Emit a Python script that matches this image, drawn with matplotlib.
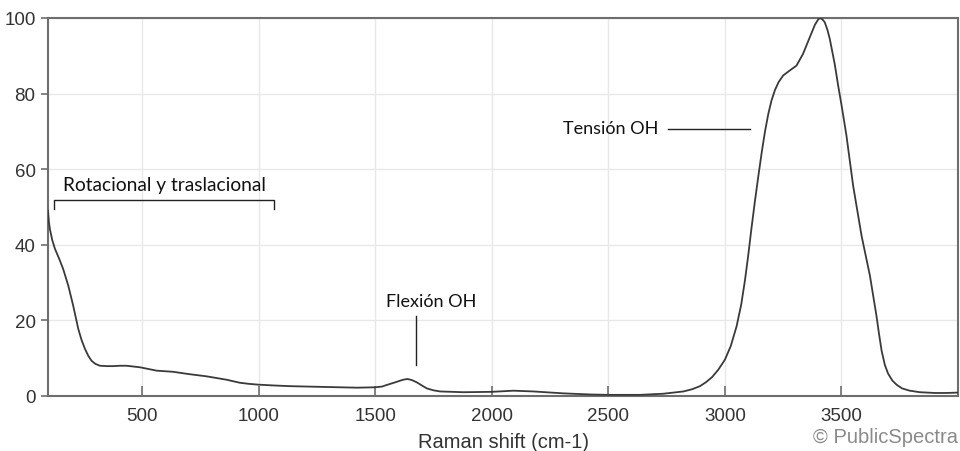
import matplotlib

matplotlib.use("Agg")
import matplotlib.pyplot as plt

# Raman spectrum of liquid water, read point by point
shift = [97, 101, 105, 115, 127, 145, 162, 184, 205, 227, 241, 256, 270, 284,
         300, 320, 350, 377, 405, 434, 491, 563, 634, 700, 777, 863, 920,
         960, 999, 1060, 1135, 1278, 1421, 1500, 1530, 1549, 1575, 1600,
         1620, 1639, 1658, 1679, 1700, 1722, 1750, 1779, 1879, 2000, 2093,
         2179, 2307, 2422, 2500, 2636, 2736, 2822, 2860, 2893, 2920, 2945,
         2971, 3000, 3025, 3050, 3070, 3086, 3100, 3114, 3128, 3143, 3158,
         3172, 3186, 3200, 3215, 3230, 3250, 3278, 3307, 3335, 3364, 3386,
         3400, 3407, 3417, 3428, 3440, 3450, 3471, 3486, 3500, 3521, 3550,
         3586, 3622, 3650, 3661, 3672, 3686, 3700, 3718, 3736, 3760, 3793,
         3836, 3900, 3950, 4000]
intensity = [49.0, 46.0, 44.2, 41.3, 38.9, 36.3, 33.6, 29.2, 23.9, 17.7,
             14.8, 12.4, 10.6, 9.3, 8.5, 8.0, 7.9, 7.9, 8.0, 8.0, 7.6, 6.7,
             6.4, 5.8, 5.2, 4.3, 3.5, 3.2, 3.0, 2.8, 2.6, 2.4, 2.2, 2.3, 2.5,
             2.9, 3.4, 3.9, 4.3, 4.5, 4.2, 3.6, 2.8, 2.0, 1.5, 1.2, 1.0, 1.1,
             1.4, 1.2, 0.7, 0.4, 0.3, 0.3, 0.6, 1.2, 1.8, 2.6, 3.7, 5.0, 6.9,
             9.6, 13.2, 18.4, 24.2, 30.6, 37.2, 44.4, 51.2, 58.0, 64.5, 70.0,
             74.6, 78.2, 81.0, 83.0, 84.8, 86.1, 87.4, 90.5, 94.9, 98.2, 99.6,
             100.0, 99.7, 98.9, 96.8, 94.4, 87.8, 82.0, 77.0, 69.0, 55.6, 42.4,
             31.8, 21.2, 16.4, 12.0, 8.2, 5.9, 4.1, 3.0, 2.0, 1.4, 1.0, 0.8,
             0.8, 0.9]

x_ticks = [500, 1000, 1500, 2000, 2500, 3000, 3500]
y_ticks = [0, 20, 40, 60, 80, 100]

ANNOT_FONT = "Lato"
AXIS_FONT = "Liberation Sans"

fig = plt.figure(figsize=(9.6, 4.52), dpi=100)
ax = fig.add_axes([0.05, 0.1217, 0.948, 0.8363])

ax.plot(shift, intensity, color="#3a3a3a", lw=1.3, zorder=3,
        solid_joinstyle="round")

ax.set_xlim(97, 4000)
ax.set_ylim(0, 100)
ax.set_xticks(x_ticks)
ax.set_yticks(y_ticks)
ax.grid(True, color="#e8e8e8", lw=1.0, zorder=0)
ax.set_axisbelow(True)

for sp in ax.spines.values():
    sp.set_color("#6e6e6e")
    sp.set_linewidth(1.5)
ax.tick_params(axis="x", direction="in", length=7, width=1.2, color="#6e6e6e",
               labelsize=13.5, labelcolor="#333333", pad=8)
ax.tick_params(axis="y", direction="out", length=5, width=1.2, color="#6e6e6e",
               labelsize=13.5, labelcolor="#333333", pad=4)
for lab in ax.get_xticklabels() + ax.get_yticklabels():
    lab.set_fontfamily(AXIS_FONT)

ax.set_xlabel("Raman shift (cm-1)", fontsize=14.5, color="#333333",
              family=AXIS_FONT, labelpad=6)

# band annotations
ax.text(161, 56, "Rotacional y traslacional", fontsize=13.8, family=ANNOT_FONT,
        va="center", ha="left", color="#111111")
ax.plot([121, 121, 1065, 1065], [49.5, 51.9, 51.9, 49.5], color="#222222", lw=1.0)

ax.text(1742, 25.2, "Flexión OH", fontsize=13, family=ANNOT_FONT,
        va="center", ha="center", color="#111111")
ax.plot([1675, 1675], [21.2, 8.2], color="#222222", lw=1.0)

ax.text(2714, 70.8, "Tensión OH", fontsize=13, family=ANNOT_FONT,
        va="center", ha="right", color="#111111")
ax.plot([2757, 3108], [70.6, 70.6], color="#222222", lw=1.0)

fig.text(0.998, 0.02, "© PublicSpectra", fontsize=14.5, family=AXIS_FONT,
         color="#8a8a8a", ha="right", va="baseline")

fig.savefig("out.png", dpi=100)
